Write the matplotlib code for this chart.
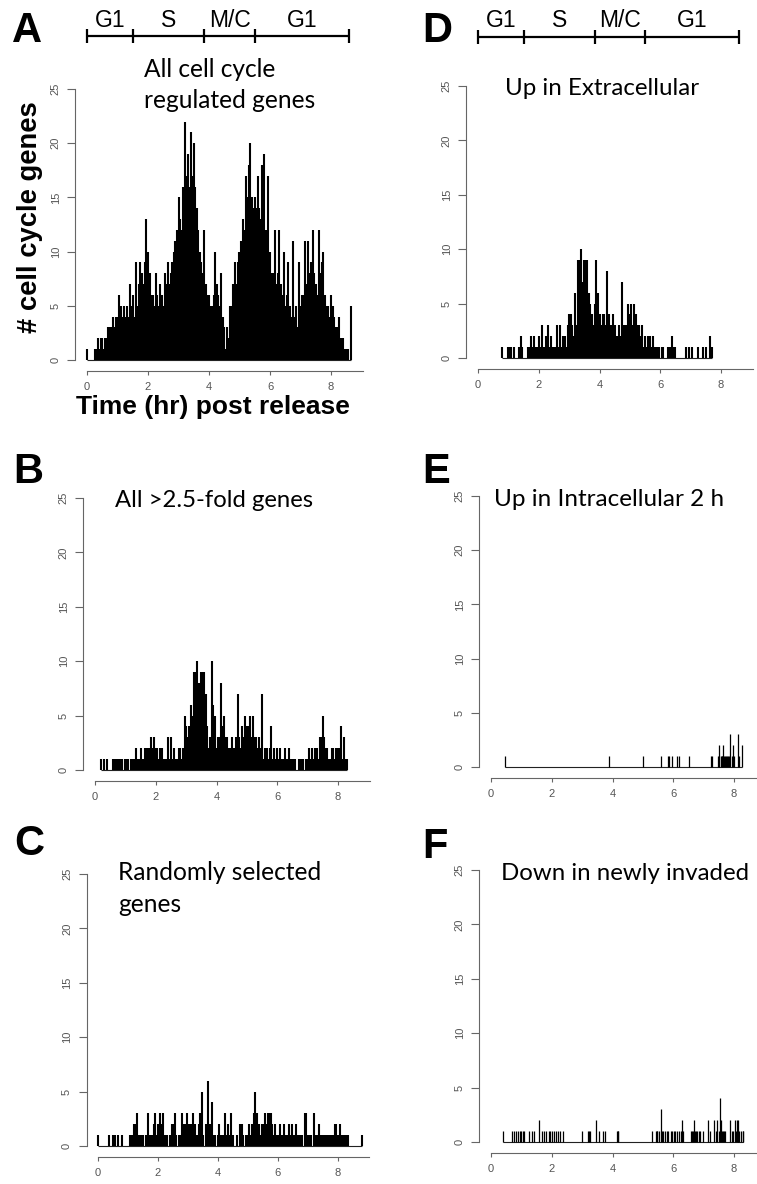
import numpy as np
import matplotlib
matplotlib.use("Agg")
import matplotlib.pyplot as plt
from matplotlib import transforms

# ---------------- data ----------------
bin_width = 0.05  # hr, width of the time bins in panels A-D

# Panel A: all cell-cycle regulated genes (bins from 0.00 hr)
a_start = 0.00
a_counts = [1, 0, 0, 0, 0,  1, 1, 2, 1, 2,  2, 1, 2, 2, 3,  3, 3, 4, 3, 4,
            4, 6, 5, 4, 5,  4, 5, 4, 7, 5,  6, 4, 9, 5, 7,  9, 8, 7, 9, 13,
            10, 8, 6, 6, 5,  8, 6, 5, 7, 6,  5, 8, 7, 9, 7,  8, 9, 10, 11, 12,
            15, 13, 12, 16, 22,  17, 19, 16, 21, 17,  20, 16, 14, 12, 10,  9, 8, 12, 7, 6,
            6, 5, 5, 6, 10,  7, 6, 5, 8, 4,  3, 1, 3, 2, 5,  5, 7, 9, 7, 9,
            10, 11, 13, 12, 17,  15, 18, 20, 15, 14,  15, 14, 17, 14, 13,  18, 19, 12, 12, 17,
            10, 8, 8, 12, 7,  8, 12, 7, 6, 10,  5, 6, 9, 5, 4,  11, 4, 5, 3, 9,
            5, 6, 6, 11, 7,  11, 8, 9, 12, 8,  7, 6, 12, 8, 9,  10, 6, 5, 5, 4,
            6, 5, 4, 3, 3,  4, 2, 2, 2, 1,  1, 1, 0, 5]

# Panel B: all >2.5-fold genes (bins from 0.20 hr)
b_start = 0.20
b_counts = [1, 0, 1, 0, 1, 0, 0, 0, 1, 1, 1, 1, 1, 1, 1, 0, 1, 1, 1, 0,
            1, 1, 1, 2, 1, 1, 2, 1, 1, 2, 2, 2, 2, 3, 2, 3, 2, 2, 1, 2,
            2, 1, 1, 1, 3, 1, 3, 1, 2, 1, 1, 2, 2, 1, 2, 5, 4, 3, 4, 6,
            5, 9, 9, 10, 8, 8, 9, 9, 9, 7, 4, 2, 3, 10, 6, 5, 2, 3, 3, 8,
            4, 5, 3, 3, 2, 2, 3, 2, 2, 3, 7, 3, 2, 4, 3, 5, 4, 4, 5, 3,
            5, 3, 3, 2, 3, 2, 7, 1, 2, 2, 1, 2, 4, 1, 2, 1, 2, 1, 2, 1,
            1, 2, 1, 1, 2, 1, 1, 1, 1, 0, 1, 1, 1, 1, 0, 1, 1, 2, 1, 2,
            1, 2, 2, 1, 3, 3, 5, 3, 2, 2, 1, 1, 2, 2, 1, 2, 2, 2, 4, 1,
            3, 1, 1]

# Panel C: randomly selected genes (bins from 0.00 hr)
c_start = 0.00
c_counts = [1, 0, 0, 0, 0, 0, 0, 1, 0, 0, 1, 1, 0, 1, 0, 0, 1, 0, 0, 0,
            0, 1, 1, 1, 2, 2, 3, 1, 1, 1, 1, 0, 1, 3, 1, 1, 1, 2, 3, 1,
            2, 3, 2, 3, 1, 1, 1, 0, 1, 2, 2, 3, 1, 0, 1, 1, 3, 2, 2, 3,
            2, 2, 2, 3, 2, 2, 1, 2, 3, 5, 1, 0, 2, 6, 1, 2, 4, 1, 1, 0,
            1, 2, 1, 1, 1, 3, 1, 2, 1, 3, 1, 0, 0, 1, 0, 2, 2, 1, 0, 1,
            1, 2, 1, 2, 3, 5, 3, 2, 1, 2, 2, 3, 2, 3, 3, 3, 2, 1, 2, 1,
            1, 2, 1, 1, 2, 1, 1, 2, 1, 2, 1, 1, 2, 1, 0, 1, 1, 0, 3, 3,
            1, 1, 1, 0, 3, 1, 1, 2, 1, 1, 1, 1, 0, 1, 1, 1, 1, 1, 2, 2,
            1, 2, 1, 1, 1, 1, 1, 1, 0, 0, 0, 0, 0, 0, 0, 0, 1]

# Panel D: up in extracellular (bins from 0.80 hr)
d_start = 0.80
d_counts = [1, 0, 0, 0, 1, 1, 1, 0, 1, 0, 0, 1, 2, 1, 0, 0, 0, 1, 1, 2,
            1, 2, 1, 1, 2, 1, 3, 1, 1, 2, 3, 1, 2, 1, 1, 1, 3, 1, 3, 1,
            2, 2, 1, 3, 4, 4, 3, 2, 6, 3, 9, 9, 10, 7, 9, 9, 9, 6, 5, 4,
            3, 5, 9, 6, 4, 3, 4, 4, 3, 8, 4, 3, 3, 4, 3, 2, 2, 3, 2, 7,
            3, 3, 3, 5, 4, 5, 3, 5, 4, 3, 3, 2, 3, 1, 2, 1, 2, 2, 1, 2,
            1, 1, 1, 1, 0, 1, 1, 0, 0, 1, 1, 1, 2, 1, 1, 0, 0, 0, 0, 0,
            0, 1, 0, 1, 0, 1, 0, 0, 0, 1, 0, 0, 1, 0, 1, 0, 0, 2, 1]

# Panel E: up in intracellular 2 h (individual time points)
e_times = [0.47, 3.88, 5.01, 5.59, 5.82, 5.86, 5.97, 6.13, 6.18, 6.53, 7.24, 7.29,
           7.46, 7.49, 7.52, 7.56, 7.59, 7.62, 7.65, 7.68, 7.71, 7.74, 7.78, 7.81,
           7.84, 7.88, 7.92, 7.96, 8.00, 8.14, 8.17, 8.27]
e_counts = [1, 1, 1, 1, 1, 1, 1, 1, 1, 1, 1, 1,
            1, 1, 2, 1, 1, 1, 2, 1, 1, 1, 1, 1,
            1, 3, 1, 2, 1, 3, 1, 2]

# Panel F: down in newly invaded (individual time points)
f_times = [0.38, 0.70, 0.76, 0.83, 0.88, 0.94, 0.99, 1.05, 1.10, 1.26, 1.34, 1.42,
           1.58, 1.67, 1.75, 1.82, 1.90, 1.95, 2.01, 2.08, 2.14, 2.22, 2.27, 2.37,
           2.98, 3.20, 3.23, 3.26, 3.45, 3.56, 3.68, 3.75, 4.15, 4.17, 4.19,
           5.31, 5.43, 5.45, 5.47, 5.54, 5.59, 5.62, 5.67, 5.72, 5.78, 5.84,
           5.91, 5.96, 6.01, 6.06, 6.11, 6.20, 6.26, 6.28, 6.30, 6.33,
           6.57, 6.61, 6.64, 6.68, 6.71, 6.74, 6.78, 6.84, 6.88, 6.97,
           7.15, 7.20, 7.34, 7.40, 7.45, 7.51, 7.54, 7.57, 7.60, 7.63, 7.67, 7.70,
           7.87, 7.93, 7.98, 8.03, 8.06, 8.09, 8.12, 8.14, 8.18, 8.23, 8.28, 8.31]
f_counts = [1, 1, 1, 1, 1, 1, 1, 1, 1, 1, 1, 1,
            2, 1, 1, 1, 1, 1, 1, 1, 1, 1, 1, 1,
            1, 1, 1, 1, 2, 1, 1, 1, 1, 1, 1,
            1, 1, 1, 1, 1, 3, 1, 1, 1, 1, 1,
            1, 1, 1, 1, 1, 1, 1, 2, 1, 1,
            1, 1, 1, 2, 1, 1, 1, 1, 1, 1,
            2, 1, 2, 1, 2, 1, 4, 2, 1, 1, 1, 1,
            2, 1, 1, 2, 1, 2, 1, 2, 1, 1, 1, 1]

panel_letters = ["A", "B", "C", "D", "E", "F"]
panel_titles = [["All cell cycle", "regulated genes"],
                ["All >2.5-fold genes"],
                ["Randomly selected", "genes"],
                ["Up in Extracellular"],
                ["Up in Intracellular 2 h"],
                ["Down in newly invaded"]]
phase_labels = ["G1", "S", "M/C", "G1"]
phase_edges = [0.0, 1.5, 3.85, 5.5, 8.6]
x_ticks = [0, 2, 4, 6, 8]
y_ticks = [0, 5, 10, 15, 20, 25]
y_label = "# cell cycle genes"
x_label = "Time (hr) post release"

# ---------------- layout ----------------
W, H = 757, 1184
DPI = 100
fig = plt.figure(figsize=(W / DPI, H / DPI), dpi=DPI)
renderer = fig.canvas.get_renderer()

XLIM = (-0.38, 9.05)
YLIM = (-1, 26)


def fx(px):
    return px / W


def fy(py):
    return 1 - py / H


def make_axes(px0, px8, py0, py25):
    sx = (px8 - px0) / 8.0
    sy = (py0 - py25) / 25.0
    left = px0 + XLIM[0] * sx
    right = px0 + XLIM[1] * sx
    top = py0 - YLIM[1] * sy
    bottom = py0 - YLIM[0] * sy
    ax = fig.add_axes([left / W, 1 - bottom / H, (right - left) / W, (bottom - top) / H])
    ax.set_xlim(*XLIM)
    ax.set_ylim(*YLIM)
    for s in ["top", "right"]:
        ax.spines[s].set_visible(False)
    ax.spines["left"].set_bounds(0, 25)
    ax.spines["bottom"].set_bounds(0, XLIM[1])
    for s in ["left", "bottom"]:
        ax.spines[s].set_color("#666666")
        ax.spines[s].set_linewidth(0.8)
    ax.set_xticks(x_ticks)
    ax.set_yticks(y_ticks)
    ax.set_xticklabels([str(t) for t in x_ticks], fontfamily="Liberation Sans")
    ax.set_yticklabels([str(t) for t in y_ticks], fontfamily="Liberation Sans",
                       rotation=90, va="center")
    ax.tick_params(axis="x", length=3.1, width=0.8, color="#666666",
                   labelcolor="#555555", labelsize=8, pad=5)
    ax.tick_params(axis="y", length=5.5, width=0.8, color="#666666",
                   labelcolor="#555555", labelsize=8, pad=5)
    ax.patch.set_alpha(0)
    return ax


def draw_binned(ax, start, counts, lw=1.5):
    t = start + np.arange(len(counts)) * bin_width
    c = np.asarray(counts, dtype=float)
    ax.hlines(0, t[0], t[-1], color="#222222", lw=0.8)
    ax.vlines(t, 0, c, color="black", lw=lw)


def draw_points(ax, times, counts, lw=0.9):
    t = np.asarray(times)
    c = np.asarray(counts, dtype=float)
    ax.hlines(0, t.min(), t.max(), color="#222222", lw=0.8)
    ax.vlines(t, 0, c, color="black", lw=lw)


def fit_text(t, target, dim="w"):
    bb = t.get_window_extent(renderer)
    cur = bb.width if dim == "w" else bb.height
    t.set_fontsize(t.get_fontsize() * target / cur)
    return t


# axes pixel geometry (x=0 px, x=8 px, y=0 px, y=25 px)
geo = {
    "A": (87, 331, 360, 89),
    "B": (95, 338, 770, 498),
    "C": (98, 338, 1146, 874),
    "D": (478, 721, 358, 86),
    "E": (491, 734, 767, 496),
    "F": (491, 734, 1142, 870),
}
axes = {k: make_axes(*v) for k, v in geo.items()}

draw_binned(axes["A"], a_start, a_counts)
draw_binned(axes["B"], b_start, b_counts)
draw_binned(axes["C"], c_start, c_counts)
draw_binned(axes["D"], d_start, d_counts)
draw_points(axes["E"], e_times, e_counts)
draw_points(axes["F"], f_times, f_counts)

# panel letters
letter_pos = {"A": (12, 42), "B": (13, 483), "C": (14, 855),
              "D": (422, 42), "E": (422, 483), "F": (422, 858)}
for k in panel_letters:
    x, y = letter_pos[k]
    fig.text(fx(x), fy(y), k, fontsize=30, fontweight="bold",
             fontfamily="Liberation Sans", ha="left", va="baseline", color="black")

# panel titles (left px, baseline px of first line, line gap px, target width px of widest line)
title_geo = {
    "A": (144, 77, 31, 172),
    "B": (115, 507, 0, 198),
    "C": (118, 880, 32, 204),
    "D": (505, 95, 0, 195),
    "E": (494, 506, 0, 230),
    "F": (501, 880, 0, 249),
}
for i, k in enumerate(panel_letters):
    left, base, gap, width = title_geo[k]
    lines = panel_titles[i]
    widest = max(lines, key=len)
    probe = fig.text(0, 0, widest, fontsize=16, fontfamily="Lato")
    fit_text(probe, width)
    size = probe.get_fontsize()
    probe.remove()
    for j, line in enumerate(lines):
        fig.text(fx(left), fy(base + j * gap), line, fontsize=size, fontfamily="Lato",
                 ha="left", va="baseline", color="black")

# cell-cycle phase bars above A and D
for k, ybar in (("A", 36), ("D", 37)):
    ax = axes[k]
    tr = transforms.blended_transform_factory(ax.transData, fig.transFigure)
    e = phase_edges
    ax.plot([e[0], e[-1]], [fy(ybar), fy(ybar)], transform=tr, color="black",
            lw=1.6, clip_on=False, solid_capstyle="butt")
    for xe in e:
        ax.plot([xe, xe], [fy(ybar - 7), fy(ybar + 7)], transform=tr, color="black",
                lw=1.6, clip_on=False, solid_capstyle="butt")
    for lab, x0, x1 in zip(phase_labels, e[:-1], e[1:]):
        ax.text((x0 + x1) / 2, fy(27), lab, transform=tr, ha="center", va="baseline",
                fontsize=16.5, fontfamily="Liberation Sans", color="black")

# axis labels of panel A
yl = fig.text(fx(30), fy(217), y_label, rotation=90, ha="center", va="center",
              fontsize=19, fontweight="bold", fontfamily="Liberation Sans")
fit_text(yl, 231, dim="h")
xl = fig.text(fx(213), fy(414), x_label, ha="center", va="baseline",
              fontsize=19, fontweight="bold", fontfamily="Liberation Sans")
fit_text(xl, 274, dim="w")

fig.savefig("out.png", dpi=DPI)
